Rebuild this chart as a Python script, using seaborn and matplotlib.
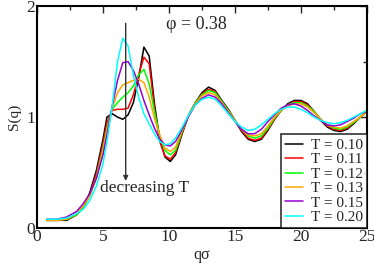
import numpy as np
import pandas as pd
import seaborn as sns
import matplotlib.pyplot as plt
from matplotlib.ticker import MultipleLocator

# wave vector grid (q sigma)
q = [0.75, 1.5, 2.25, 3.0, 3.5, 4.0, 4.5, 5.0, 5.3, 5.7, 6.1, 6.5, 6.9, 7.3, 7.7, 8.1,
     8.5, 8.9, 9.3, 9.7, 10.1, 10.5, 11.0, 11.5, 12.0, 12.5, 13.0, 13.5, 14.0, 14.5,
     15.0, 15.5, 16.0, 16.5, 17.0, 17.5, 18.0, 18.5, 19.0, 19.5, 20.0, 20.5, 21.0,
     21.5, 22.0, 22.5, 23.0, 23.5, 24.0, 24.5, 25.0]

# S(q) for each temperature
s_010 = [0.07, 0.07, 0.07, 0.12, 0.18, 0.32, 0.52, 0.80, 1.00, 1.03, 1.00, 0.98, 1.02, 1.13, 1.35, 1.63,
         1.55, 1.12, 0.80, 0.64, 0.60, 0.66, 0.85, 1.02, 1.13, 1.22, 1.27, 1.24, 1.15, 1.07,
         0.97, 0.87, 0.80, 0.78, 0.80, 0.88, 0.98, 1.06, 1.12, 1.15, 1.15, 1.12, 1.05,
         0.97, 0.91, 0.88, 0.87, 0.89, 0.94, 1.00, 1.05]
s_011 = [0.07, 0.07, 0.08, 0.12, 0.19, 0.30, 0.49, 0.76, 0.95, 1.06, 1.07, 1.07, 1.08, 1.20, 1.38, 1.54,
         1.48, 1.08, 0.78, 0.65, 0.62, 0.68, 0.86, 1.02, 1.13, 1.21, 1.25, 1.23, 1.14, 1.06,
         0.97, 0.88, 0.81, 0.79, 0.81, 0.89, 0.98, 1.06, 1.11, 1.14, 1.14, 1.11, 1.05,
         0.98, 0.92, 0.89, 0.88, 0.90, 0.95, 1.00, 1.05]
s_012 = [0.07, 0.07, 0.08, 0.12, 0.19, 0.29, 0.46, 0.72, 0.90, 1.07, 1.13, 1.18, 1.22, 1.28, 1.38, 1.43,
         1.30, 1.05, 0.83, 0.70, 0.66, 0.70, 0.87, 1.02, 1.13, 1.20, 1.24, 1.22, 1.14, 1.06,
         0.97, 0.89, 0.83, 0.81, 0.83, 0.90, 0.99, 1.06, 1.11, 1.13, 1.13, 1.10, 1.05,
         0.98, 0.93, 0.90, 0.89, 0.91, 0.95, 1.00, 1.05]
s_013 = [0.07, 0.07, 0.08, 0.13, 0.20, 0.29, 0.45, 0.70, 0.88, 1.08, 1.22, 1.29, 1.31, 1.33, 1.34, 1.31,
         1.18, 0.99, 0.84, 0.72, 0.69, 0.73, 0.88, 1.02, 1.12, 1.19, 1.22, 1.20, 1.13, 1.05,
         0.97, 0.89, 0.84, 0.83, 0.85, 0.92, 1.00, 1.06, 1.10, 1.12, 1.12, 1.09, 1.04,
         0.98, 0.93, 0.91, 0.90, 0.92, 0.96, 1.00, 1.05]
s_015 = [0.08, 0.08, 0.10, 0.15, 0.22, 0.31, 0.45, 0.66, 0.84, 1.10, 1.33, 1.49, 1.50, 1.42, 1.30, 1.15,
         1.02, 0.90, 0.80, 0.75, 0.74, 0.78, 0.89, 1.01, 1.11, 1.17, 1.20, 1.18, 1.12, 1.04,
         0.96, 0.89, 0.85, 0.85, 0.89, 0.96, 1.02, 1.08, 1.11, 1.12, 1.10, 1.06, 1.01,
         0.97, 0.93, 0.92, 0.93, 0.96, 0.99, 1.03, 1.05]
s_020 = [0.08, 0.08, 0.09, 0.13, 0.17, 0.25, 0.38, 0.58, 0.78, 1.10, 1.50, 1.71, 1.64, 1.38, 1.18, 1.03,
         0.94, 0.85, 0.78, 0.75, 0.76, 0.81, 0.91, 1.02, 1.11, 1.16, 1.18, 1.16, 1.10, 1.03,
         0.96, 0.91, 0.88, 0.89, 0.93, 0.98, 1.03, 1.07, 1.09, 1.09, 1.07, 1.04, 1.00,
         0.97, 0.95, 0.94, 0.95, 0.97, 1.00, 1.03, 1.06]

temps = ["T = 0.10", "T = 0.11", "T = 0.12", "T = 0.13", "T = 0.15", "T = 0.20"]
colores = ["black", "red", "#00ff00", "#ffa500", "#9400d3", "cyan"]

frames = []
for t, s in zip(temps, [s_010, s_011, s_012, s_013, s_015, s_020]):
    frames.append(pd.DataFrame({"q": q, "S": s, "T": t}))
df = pd.concat(frames, ignore_index=True)

sns.set_style("white")
plt.rcParams['font.family'] = ['Liberation Serif', 'DejaVu Serif']
plt.rcParams['mathtext.fontset'] = 'stix'

fig = plt.figure(figsize=(3.74, 2.64), dpi=100)
ax = fig.add_axes([0.099, 0.136, 0.882, 0.841])

sns.lineplot(data=df, x="q", y="S", hue="T", palette=colores, linewidth=1.1,
             sort=False, estimator=None, ax=ax)

ax.set_xlim(0, 25)
ax.set_ylim(0, 2)
ax.xaxis.set_major_locator(MultipleLocator(5))
ax.xaxis.set_minor_locator(MultipleLocator(2.5))
ax.yaxis.set_major_locator(MultipleLocator(1))
ax.yaxis.set_minor_locator(MultipleLocator(0.5))
ax.tick_params(which="both", direction="in", top=True, right=True, labelsize=12.5, width=1)
ax.tick_params(axis="x", pad=1)
ax.tick_params(axis="y", pad=1.5)
ax.tick_params(which="major", length=5)
ax.tick_params(which="minor", length=3)
for sp in ax.spines.values():
    sp.set_linewidth(1.5)
    sp.set_color("black")

ax.set_xlabel("q\u03c3", fontsize=11.5, labelpad=1)
ax.set_ylabel("S(q)", fontsize=11, labelpad=4)

ax.text(9.8, 1.83, "\u03c6 = 0.38", fontsize=13, va="center", ha="left")
ax.annotate("", xy=(6.72, 0.40), xytext=(6.72, 1.87),
            arrowprops=dict(arrowstyle="-|>", color="#333333", lw=1, mutation_scale=7))
ax.text(4.75, 0.36, "decreasing T", fontsize=12.5, va="center", ha="left")

leg = ax.legend(loc="lower right", fontsize=11, frameon=True, fancybox=False,
                borderaxespad=0, handlelength=1.2, handletextpad=0.5,
                labelspacing=0.05, borderpad=0.25)
leg.get_frame().set_edgecolor("black")
leg.get_frame().set_linewidth(1.2)
leg.set_title(None)

plt.savefig("out.png", dpi=100)
